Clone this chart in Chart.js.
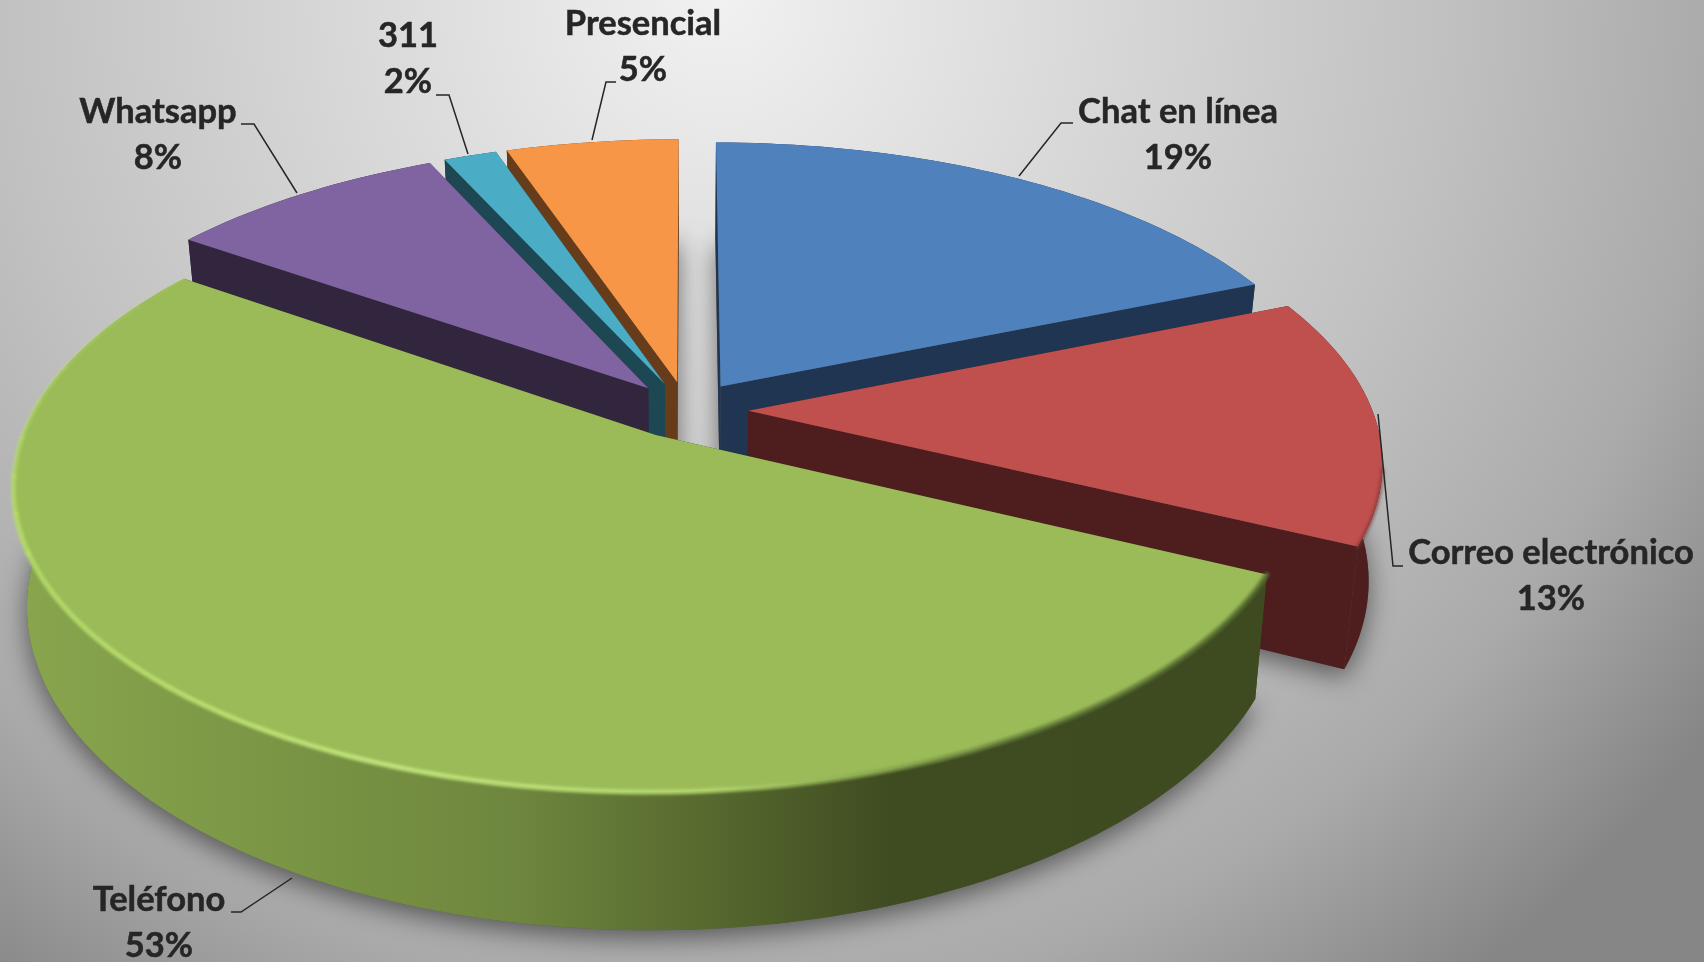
<!DOCTYPE html>
<html>
<head>
<meta charset="utf-8">
<title>Canales</title>
<script src="https://cdn.jsdelivr.net/npm/chart.js@4"></script>
<style>
  html, body { margin: 0; height: 100%; overflow: hidden; }
  body { background: radial-gradient(circle 1260px at 720px 0, #f1f1f1 0, #c1c1c1 720px, #aaaaaa 1000px, #868686 1230px); }
  #wrap { width: 1704px; height: 962px; }
</style>
</head>
<body>
<div id="wrap"><canvas id="myChart"></canvas></div>
<script>
const categories = ["Chat en línea", "Correo electrónico", "Teléfono", "Whatsapp", "311", "Presencial"];
const shares = [18.75, 13.4, 52.55, 8.49, 1.6, 5.21];
const topColors = ["#4f81bd", "#c0504d", "#9bbb59", "#8064a2", "#4bacc6", "#f79646"];
const wallColors = ["#1f3552", "#4e1d1e", "#3e4a20", "#32263f", "#1d4752", "#663c1a"];

// where each label and its leader line go, by category order
const labelSpots = [
  { x: 1178, y: 112, line: [[1073, 123], [1061, 123], [1019, 176]] },
  { x: 1551, y: 553, line: [[1403, 566], [1393, 566], [1378, 414]] },
  { x: 159, y: 900, line: [[231, 912], [241, 912], [292, 878]] },
  { x: 158, y: 112, line: [[241, 124], [254, 124], [297, 193]] },
  { x: 408, y: 36, line: [[436, 95], [449, 95], [468, 154]] },
  { x: 643, y: 24, line: [[616, 82], [606, 82], [592, 140]] },
];

// camera for the tilted pie
const cam = { cx: 687, cy: 410, a: 624, b: 290.5, k: 0.1616, depth: 114, shrink: 0.02 };

function project(x, y, z) {
  const d = 1 - cam.k * y;
  return [cam.cx + (cam.a * x / d) * (1 - cam.shrink * z), cam.cy + (cam.b * y + cam.depth * z) / d];
}

// arc element -> unit disc slice, exploded along its middle angle
function sliceOf(arc) {
  const mid = (arc.startAngle + arc.endAngle) / 2;
  const e = arc.options.offset / arc.outerRadius;
  return { start: arc.startAngle, end: arc.endAngle, mid, ox: Math.cos(mid) * e, oy: Math.sin(mid) * e };
}

function rimPoints(s, z, from, to) {
  const a0 = from === undefined ? s.start : from;
  const a1 = to === undefined ? s.end : to;
  const n = Math.max(4, Math.ceil((a1 - a0) * 40));
  const pts = [];
  for (let i = 0; i <= n; i++) {
    const a = a0 + (a1 - a0) * i / n;
    pts.push(project(s.ox + Math.cos(a), s.oy + Math.sin(a), z));
  }
  return pts;
}

function trace(ctx, pts, close) {
  ctx.beginPath();
  pts.forEach((p, i) => (i ? ctx.lineTo(p[0], p[1]) : ctx.moveTo(p[0], p[1])));
  if (close) ctx.closePath();
}

function sector(s, z) {
  return [project(s.ox, s.oy, z)].concat(rimPoints(s, z));
}

function greenWallFill(ctx) {
  const g = ctx.createLinearGradient(13, 0, 1270, 0);
  g.addColorStop(0, "#89a64e");
  g.addColorStop(0.2, "#7b9645");
  g.addColorStop(0.4, "#6e863e");
  g.addColorStop(0.56, "#55682e");
  g.addColorStop(0.7, "#3f4b21");
  g.addColorStop(1, "#3e4a20");
  return g;
}

function greenRimStroke(ctx) {
  const g = ctx.createLinearGradient(13, 0, 1270, 0);
  g.addColorStop(0, "#b4dc66");
  g.addColorStop(0.3, "#c6ea80");
  g.addColorStop(0.55, "#b6da6e");
  g.addColorStop(0.68, "#8aa850");
  g.addColorStop(0.8, "#66803a");
  g.addColorStop(1, "#5a7032");
  return g;
}

const tiltedPie = {
  id: "tiltedPie",
  beforeDatasetsDraw(chart) {
    const ctx = chart.ctx;
    const arcs = chart.getDatasetMeta(0).data;
    const slices = arcs.map((arc, i) => Object.assign(sliceOf(arc), { i }));

    // soft shadow of the underside on the backdrop
    ctx.save();
    ctx.shadowColor = "rgba(0,0,0,0.5)";
    ctx.shadowBlur = 26;
    ctx.shadowOffsetY = 8;
    ctx.fillStyle = "#555";
    slices.forEach((s) => {
      trace(ctx, sector(s, 1), true);
      ctx.fill();
    });
    ctx.restore();

    // back to front
    slices.slice().sort((p, q) => Math.sin(p.mid) - Math.sin(q.mid)).forEach((s) => {
      const fill = s.i === 2 ? greenWallFill(ctx) : wallColors[s.i];
      const apex0 = project(s.ox, s.oy, 0);
      const apex1 = project(s.ox, s.oy, 1);

      // outer wall
      const top = rimPoints(s, 0);
      const bottom = rimPoints(s, 1).reverse();

      // cut faces
      ctx.fillStyle = wallColors[s.i];
      [[top[0], rimPoints(s, 1)[0]], [top[top.length - 1], bottom[0]]].forEach(([t, b]) => {
        trace(ctx, [apex0, t, b, apex1], true);
        ctx.fill();
      });
      ctx.fillStyle = fill;
      trace(ctx, top.concat(bottom), true);
      ctx.fill();

      // top face
      ctx.fillStyle = topColors[s.i];
      trace(ctx, sector(s, 0), true);
      ctx.fill();
    });

    // bevel highlights
    const green = slices[2];
    const span = green.end - green.start;
    ctx.save();
    ctx.lineJoin = "round";
    ctx.lineCap = "round";
    ctx.filter = "blur(1.5px)";
    ctx.strokeStyle = greenRimStroke(ctx);
    ctx.globalAlpha = 0.9;
    ctx.lineWidth = 5;
    trace(ctx, rimPoints(green, 0, green.start, green.start + span * 0.7));
    ctx.stroke();
    // the highlight thins out towards the back of the slice
    for (let i = 0; i < 8; i++) {
      const f0 = 0.7 + i * 0.0375;
      ctx.globalAlpha = 0.9 - i * 0.1;
      ctx.lineWidth = 5 - i * 0.4;
      trace(ctx, rimPoints(green, 0, green.start + span * f0, green.start + span * (f0 + 0.0375)));
      ctx.stroke();
    }
    const red = slices[1];
    const redEdge = rimPoints(red, 0, red.start + (red.end - red.start) * 0.7, red.end);
    ctx.strokeStyle = "#7a3535";
    ctx.globalAlpha = 0.6;
    ctx.lineWidth = 4;
    trace(ctx, redEdge);
    ctx.stroke();
    ctx.restore();
    return false;
  },
  afterDraw(chart) {
    const ctx = chart.ctx;
    ctx.save();
    ctx.fillStyle = "#262626";
    ctx.strokeStyle = "#262626";
    ctx.textAlign = "center";
    ctx.textBaseline = "middle";
    labelSpots.forEach((spot, i) => {
      ctx.lineWidth = 1.5;
      trace(ctx, spot.line);
      ctx.stroke();
      ctx.font = "bold 34.5px Lato, sans-serif";
      ctx.lineWidth = 0.5;
      const pct = Math.round(shares[i]) + "%";
      ctx.fillText(categories[i], spot.x, spot.y);
      ctx.strokeText(categories[i], spot.x, spot.y);
      ctx.fillText(pct, spot.x, spot.y + 46);
      ctx.strokeText(pct, spot.x, spot.y + 46);
    });
    ctx.restore();
  },
};

new Chart(document.getElementById("myChart"), {
  type: "pie",
  data: {
    labels: categories,
    datasets: [{ data: shares, backgroundColor: topColors, borderWidth: 0, offset: 45 }],
  },
  options: {
    responsive: true,
    maintainAspectRatio: false,
    animation: false,
    plugins: { legend: { display: false }, tooltip: { enabled: false } },
  },
  plugins: [tiltedPie],
});
</script>
</body>
</html>
